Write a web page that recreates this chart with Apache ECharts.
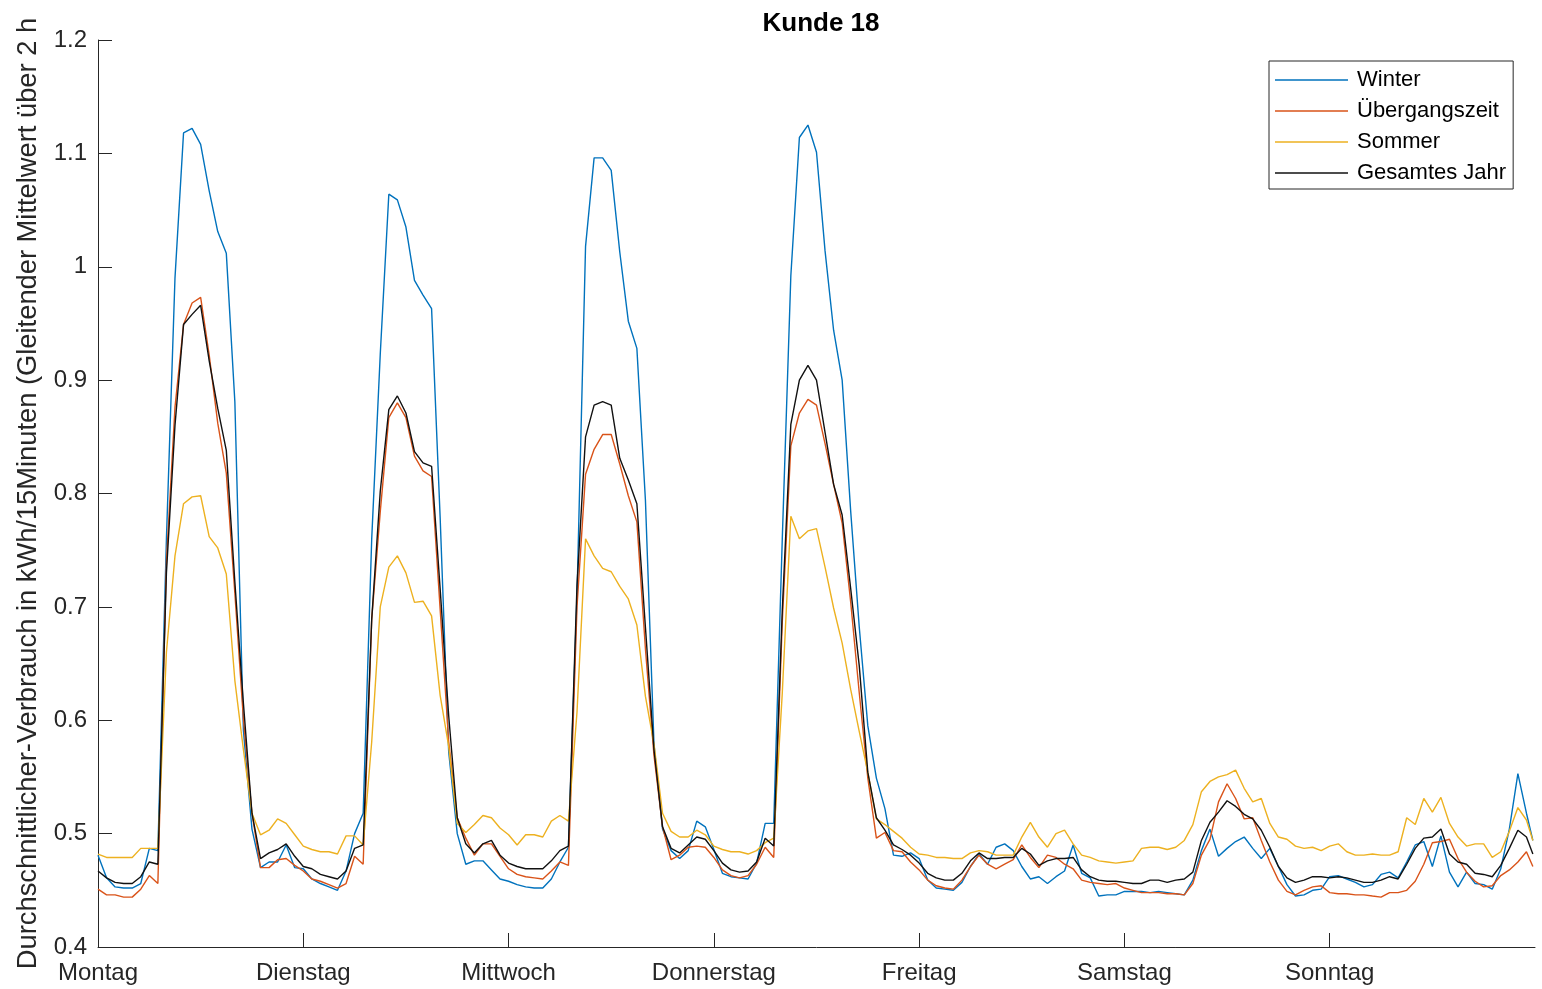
<!DOCTYPE html>
<html>
<head>
<meta charset="utf-8">
<script src="https://cdn.jsdelivr.net/npm/echarts@6/dist/echarts.min.js"></script>
<style>
  html, body { margin: 0; padding: 0; background: #fff; }
  #chart { width: 1542px; height: 989px; }
</style>
</head>
<body>
<div id="chart"></div>
<script>
// Day names (tick labels on the x axis, one per 24 h)
const dayLabels = ['Montag', 'Dienstag', 'Mittwoch', 'Donnerstag', 'Freitag', 'Samstag', 'Sonntag'];
const yTicks = [0.4, 0.5, 0.6, 0.7, 0.8, 0.9, 1.0, 1.1, 1.2];
const seriesNames = ['Winter', 'Übergangszeit', 'Sommer', 'Gesamtes Jahr'];

// Hourly values (Mon 00:00 ... Sun 23:00) plus the last sample of the week
const winter = [
  0.481,0.461,0.453,0.452,0.452,0.456,0.487,0.485,0.760,0.990,1.118,1.122,1.108,1.067,1.031,1.012,0.881,0.591,0.504,0.470,0.475,0.475,0.490,0.470,
  0.469,0.460,0.456,0.453,0.450,0.467,0.500,0.518,0.760,0.923,1.064,1.059,1.035,0.988,0.975,0.963,0.779,0.572,0.500,0.473,0.476,0.476,0.468,0.460,
  0.458,0.455,0.453,0.452,0.452,0.460,0.475,0.488,0.710,1.018,1.096,1.096,1.085,1.013,0.952,0.928,0.794,0.579,0.504,0.485,0.478,0.485,0.511,0.506,
  0.486,0.465,0.462,0.461,0.460,0.474,0.509,0.509,0.760,0.992,1.114,1.125,1.101,1.014,0.944,0.900,0.784,0.682,0.595,0.549,0.522,0.481,0.480,0.483,
  0.478,0.459,0.452,0.451,0.450,0.457,0.471,0.482,0.473,0.488,0.491,0.485,0.471,0.460,0.462,0.456,0.462,0.467,0.490,0.465,0.461,0.445,0.446,0.446,
  0.449,0.449,0.449,0.448,0.449,0.448,0.447,0.446,0.459,0.485,0.504,0.480,0.487,0.493,0.497,0.487,0.478,0.487,0.471,0.455,0.445,0.446,0.450,0.451,
  0.462,0.463,0.460,0.457,0.453,0.455,0.464,0.466,0.461,0.475,0.490,0.493,0.471,0.498,0.466,0.453,0.466,0.456,0.455,0.451,0.469,0.504,0.553,0.518,
  0.494
];
const uebergang = [
  0.451,0.446,0.446,0.444,0.444,0.451,0.463,0.456,0.740,0.876,0.949,0.968,0.973,0.922,0.862,0.818,0.712,0.601,0.518,0.470,0.470,0.477,0.478,0.472,
  0.467,0.460,0.458,0.455,0.452,0.456,0.480,0.473,0.689,0.784,0.867,0.880,0.867,0.833,0.820,0.815,0.698,0.581,0.514,0.496,0.481,0.491,0.491,0.480,
  0.469,0.464,0.462,0.461,0.460,0.467,0.475,0.472,0.700,0.817,0.839,0.852,0.852,0.826,0.798,0.775,0.663,0.569,0.506,0.477,0.481,0.488,0.489,0.488,
  0.479,0.468,0.463,0.461,0.463,0.473,0.488,0.479,0.687,0.842,0.871,0.883,0.878,0.844,0.808,0.774,0.704,0.624,0.549,0.496,0.501,0.485,0.484,0.475,
  0.468,0.459,0.454,0.452,0.451,0.459,0.471,0.481,0.473,0.469,0.473,0.477,0.490,0.479,0.470,0.481,0.479,0.473,0.469,0.459,0.457,0.456,0.455,0.456,
  0.452,0.450,0.448,0.448,0.448,0.447,0.447,0.446,0.456,0.481,0.495,0.528,0.544,0.531,0.513,0.514,0.494,0.475,0.459,0.449,0.446,0.450,0.453,0.454,
  0.448,0.447,0.447,0.446,0.446,0.445,0.444,0.448,0.448,0.450,0.458,0.473,0.492,0.493,0.495,0.478,0.466,0.458,0.453,0.454,0.463,0.468,0.475,0.484,
  0.471
];
const sommer = [
  0.482,0.479,0.479,0.479,0.479,0.487,0.487,0.487,0.660,0.745,0.791,0.797,0.798,0.762,0.752,0.729,0.635,0.574,0.518,0.499,0.503,0.513,0.509,0.499,
  0.489,0.486,0.484,0.484,0.482,0.498,0.498,0.490,0.581,0.700,0.735,0.745,0.730,0.704,0.705,0.692,0.622,0.577,0.509,0.501,0.508,0.516,0.514,0.505,
  0.499,0.490,0.499,0.499,0.497,0.511,0.516,0.511,0.607,0.760,0.745,0.734,0.731,0.718,0.707,0.684,0.621,0.579,0.518,0.502,0.497,0.497,0.503,0.499,
  0.489,0.486,0.484,0.484,0.482,0.485,0.492,0.496,0.624,0.780,0.760,0.767,0.769,0.735,0.699,0.668,0.627,0.590,0.554,0.513,0.508,0.502,0.496,0.488,
  0.482,0.481,0.479,0.479,0.478,0.478,0.483,0.485,0.484,0.481,0.481,0.481,0.497,0.510,0.497,0.488,0.500,0.503,0.491,0.481,0.479,0.476,0.475,0.474,
  0.475,0.476,0.487,0.488,0.488,0.486,0.488,0.494,0.508,0.537,0.546,0.550,0.552,0.556,0.540,0.528,0.531,0.509,0.497,0.495,0.489,0.487,0.488,0.485,
  0.489,0.491,0.484,0.481,0.481,0.482,0.481,0.481,0.484,0.514,0.508,0.531,0.519,0.532,0.509,0.497,0.489,0.491,0.491,0.479,0.484,0.502,0.523,0.512,
  0.494
];
const gesamt = [
  0.467,0.461,0.457,0.456,0.456,0.462,0.475,0.473,0.730,0.860,0.949,0.958,0.966,0.917,0.875,0.838,0.722,0.615,0.518,0.478,0.483,0.486,0.491,0.480,
  0.471,0.469,0.464,0.462,0.460,0.467,0.487,0.490,0.689,0.802,0.874,0.886,0.871,0.837,0.827,0.824,0.716,0.604,0.514,0.491,0.483,0.491,0.494,0.481,
  0.474,0.471,0.469,0.469,0.469,0.476,0.485,0.489,0.719,0.850,0.878,0.881,0.878,0.831,0.812,0.791,0.682,0.574,0.506,0.487,0.483,0.490,0.497,0.495,
  0.485,0.474,0.468,0.466,0.467,0.475,0.496,0.489,0.697,0.861,0.900,0.913,0.900,0.854,0.808,0.781,0.716,0.648,0.554,0.514,0.503,0.490,0.486,0.481,
  0.474,0.465,0.461,0.459,0.459,0.465,0.476,0.483,0.478,0.478,0.479,0.479,0.487,0.482,0.472,0.476,0.478,0.478,0.479,0.468,0.462,0.459,0.458,0.458,
  0.457,0.456,0.456,0.459,0.459,0.457,0.459,0.460,0.466,0.494,0.510,0.519,0.529,0.524,0.517,0.513,0.503,0.488,0.471,0.461,0.457,0.459,0.462,0.462,
  0.461,0.462,0.461,0.459,0.457,0.457,0.459,0.462,0.460,0.473,0.487,0.496,0.497,0.504,0.482,0.475,0.473,0.465,0.464,0.462,0.472,0.487,0.503,0.497,
  0.482
];

// x position in hours since Monday 00:00 (last sample is Sunday 23:45)
const hours = winter.map((_, i) => (i < 168 ? i : 167.75));
const dayTicks = dayLabels.map((_, d) => d * 24);

const FONT = '"Liberation Sans", Arial, Helvetica, sans-serif';
const AX = '#262626';
const colors = ['#0072BD', '#D95319', '#EDB120', '#111111'];
const values = [winter, uebergang, sommer, gesamt];

const chart = echarts.init(document.getElementById('chart'), null, { renderer: 'canvas' });
chart.setOption({
  animation: false,
  backgroundColor: '#ffffff',
  textStyle: { fontFamily: FONT },
  title: {
    text: 'Kunde 18',
    left: 816, top: 6, textAlign: 'center',
    textStyle: { fontFamily: FONT, fontSize: 26, fontWeight: 'bold', color: '#000' }
  },
  legend: {
    orient: 'vertical',
    left: 1269, top: 61,
    padding: [8, 7, 5, 6],
    itemGap: 9,
    icon: 'rect',
    itemWidth: 73, itemHeight: 1.4,
    borderColor: AX, borderWidth: 1,
    backgroundColor: '#fff',
    textStyle: { fontFamily: FONT, fontSize: 22, color: '#000', padding: [0, 0, 0, 4] },
    data: seriesNames
  },
  grid: { left: 98, right: 7, top: 40, bottom: 42, containLabel: false },
  xAxis: {
    type: 'value', min: 0, max: 168,
    axisLine: { show: true, lineStyle: { color: AX, width: 1 } },
    axisTick: { show: true, inside: true, length: 14, customValues: dayTicks, lineStyle: { color: AX } },
    axisLabel: {
      customValues: dayTicks,
      formatter: v => dayLabels[Math.round(v / 24)] || '',
      fontFamily: FONT, fontSize: 24, color: AX, margin: 14
    },
    splitLine: { show: false }
  },
  yAxis: {
    type: 'value', min: 0.4, max: 1.2,
    name: 'Durchschnittlicher-Verbrauch in kWh/15Minuten (Gleitender Mittelwert über 2 h',
    nameLocation: 'middle', nameGap: 56, nameRotate: 90,
    nameTextStyle: { fontFamily: FONT, fontSize: 27.3, color: AX },
    axisLine: { show: true, lineStyle: { color: AX, width: 1 } },
    axisTick: { show: true, inside: true, length: 14, customValues: yTicks, lineStyle: { color: AX } },
    axisLabel: {
      customValues: yTicks,
      formatter: v => String(+v.toFixed(1)),
      fontFamily: FONT, fontSize: 24, color: AX, margin: 11
    },
    splitLine: { show: false }
  },
  series: seriesNames.map((name, k) => ({
    name,
    type: 'line',
    symbol: 'none',
    showSymbol: false,
    smooth: false,
    color: colors[k],
    lineStyle: { color: colors[k], width: 1.4 },
    data: hours.map((h, i) => [h, values[k][i]])
  }))
});
</script>
</body>
</html>
